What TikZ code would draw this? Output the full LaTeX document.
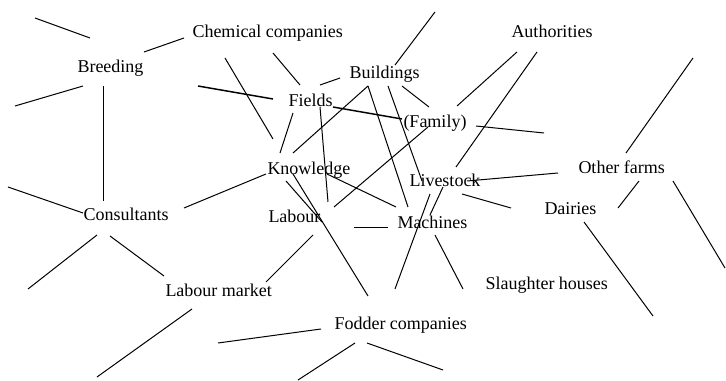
\documentclass[tikz,border=0pt]{standalone}
\usepackage{fontspec}
\setmainfont{Liberation Serif}

\tikzset{every picture/.style={line width=0.75pt}}
\tikzset{
  lbl/.style={anchor=base west, inner sep=0pt, font=\fontsize{13.5}{16}\selectfont},
  heavy/.style={line width=1.1pt}
}

\begin{document}
\begin{tikzpicture}[x=0.75pt,y=0.75pt,yscale=-1,xscale=1]
\useasboundingbox (0,0) rectangle (726,381);

% Text Nodes
\node [lbl] (breeding) at (77,73) {Breeding};
\node [lbl] (chemical) at (192,38) {Chemical companies};
\node [lbl] (buildings) at (349,79) {Buildings};
\node [lbl] (fields) at (288,107) {Fields};
\node [lbl] (authorities) at (511,38) {Authorities};
\node [lbl] (family) at (403,128) {(Family)};
\node [lbl] (knowledge) at (267,175) {Knowledge};
\node [lbl] (livestock) at (409,187) {Livestock};
\node [lbl] (otherfarms) at (578,174) {Other farms};
\node [lbl] (consultants) at (83,221) {Consultants};
\node [lbl] (labour) at (268,223) {Labour};
\node [lbl] (machines) at (397,229) {Machines};
\node [lbl] (dairies) at (544,215) {Dairies};
\node [lbl] (labourmarket) at (165,297) {Labour market};
\node [lbl] (slaughter) at (485,290) {Slaughter houses};
\node [lbl] (fodder) at (334,330) {Fodder companies};

%Straight Lines round Breeding
\draw (35,18) -- (90,38) ;
\draw (144,52) -- (184,38) ;
\draw (15,106) -- (83,86) ;
\draw (103,86) -- (103,201) ;
\draw [heavy] (198,86) -- (273,99) ;
%Straight Lines round Chemical companies and Fields
\draw (225,58) -- (273,139) ;
\draw (273,53) -- (300,85) ;
\draw (320,85) -- (340,78) ;
\draw [heavy] (333,107) -- (402,119) ;
\draw (320,107) -- (328,202) ;
\draw (293,113) -- (280,153) ;
%Straight Lines round Buildings
\draw (368,86) -- (293,153) ;
\draw (368,86) -- (408,207) ;
\draw (388,86) -- (422,181) ;
\draw (402,86) -- (429,107) ;
\draw (395,65) -- (435,12) ;
%Straight Lines round Authorities and (Family)
\draw (517,52) -- (457,106) ;
\draw (537,52) -- (456,167) ;
\draw (476,126) -- (544,133) ;
\draw (428,127) -- (334,207) ;
%Straight Lines round Knowledge and Labour
\draw (184,208) -- (266,174) ;
\draw (327,174) -- (396,207) ;
\draw (293,174) -- (368,296) ;
\draw (286,181) -- (322,222) ;
\draw (313,235) -- (266,282) ;
\draw (354,228) -- (388,228) ;
%Straight Lines round Livestock and Machines
\draw (467,181) -- (558,173) ;
\draw (462,194) -- (511,208) ;
\draw (443,187) -- (430,215) ;
\draw (430,194) -- (395,289) ;
\draw (435,235) -- (463,289) ;
%Straight Lines round Other farms and Dairies
\draw (693,58) -- (626,153) ;
\draw (639,181) -- (618,208) ;
\draw (673,181) -- (725,268) ;
\draw (584,222) -- (653,316) ;
%Straight Lines round Consultants and Labour market
\draw (8,187) -- (83,213) ;
\draw (97,235) -- (28,289) ;
\draw (110,236) -- (164,276) ;
\draw (192,309) -- (97,377) ;
%Straight Lines round Fodder companies
\draw (218,343) -- (321,329) ;
\draw (355,343) -- (298,380) ;
\draw (367,343) -- (443,370) ;

\end{tikzpicture}
\end{document}
